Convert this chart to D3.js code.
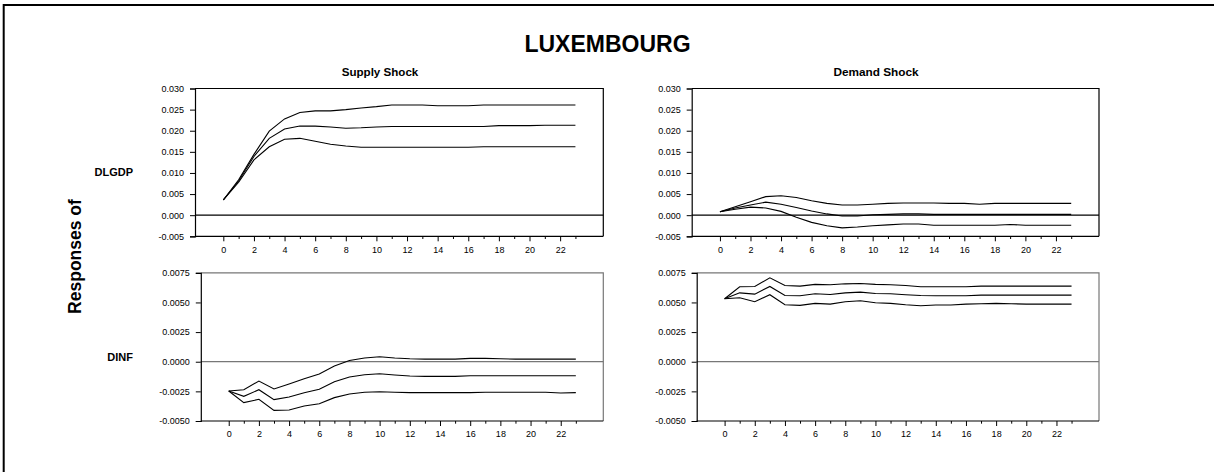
<!DOCTYPE html>
<html>
<head>
<meta charset="utf-8">
<script src="https://cdn.jsdelivr.net/npm/d3@7"></script>
<style>
  body { margin: 0; background: #fff; overflow: hidden; }
  svg { display: block; font-family: "Liberation Sans", Arial, sans-serif; }
</style>
</head>
<body>
<svg id="chart" width="1214" height="472"></svg>
<script>
// ---- data ----
const periods = [0,1,2,3,4,5,6,7,8,9,10,11,12,13,14,15,16,17,18,19,20,21,22,23];
const xTickLabels = [0,2,4,6,8,10,12,14,16,18,20,22];
const yTicksGdp = [-0.005, 0.000, 0.005, 0.010, 0.015, 0.020, 0.025, 0.030];
const yTicksInf = [-0.0050, -0.0025, 0.0000, 0.0025, 0.0050, 0.0075];

const supplyGdpUp  = [0.0036,0.0084,0.0144,0.0199,0.0228,0.0243,0.0247,0.0247,0.0250,0.0254,0.0257,0.0261,0.0261,0.0261,0.0259,0.0259,0.0259,0.0261,0.0261,0.0261,0.0261,0.0261,0.0261,0.0261];
const supplyGdpMid = [0.0036,0.0081,0.0139,0.0182,0.0204,0.0211,0.0211,0.0209,0.0206,0.0207,0.0209,0.0210,0.0210,0.0210,0.0210,0.0210,0.0210,0.0210,0.0212,0.0212,0.0212,0.0213,0.0213,0.0213];
const supplyGdpLo  = [0.0036,0.0078,0.0131,0.0162,0.0180,0.0182,0.0175,0.0168,0.0164,0.0161,0.0161,0.0161,0.0161,0.0161,0.0161,0.0161,0.0161,0.0162,0.0162,0.0162,0.0162,0.0162,0.0162,0.0162];

const demandGdpUp  = [0.0008,0.0020,0.0032,0.0044,0.0046,0.0042,0.0034,0.0028,0.0024,0.0024,0.0026,0.0028,0.0029,0.0029,0.0029,0.0028,0.0028,0.0026,0.0028,0.0028,0.0028,0.0028,0.0028,0.0028];
const demandGdpMid = [0.0008,0.0017,0.0024,0.0031,0.0026,0.0018,0.0010,0.0003,-0.0002,-0.0002,0.0001,0.0002,0.0003,0.0003,0.0002,0.0002,0.0002,0.0002,0.0002,0.0002,0.0002,0.0002,0.0002,0.0002];
const demandGdpLo  = [0.0008,0.0014,0.0019,0.0017,0.0009,-0.0005,-0.0017,-0.0025,-0.0030,-0.0028,-0.0025,-0.0023,-0.0021,-0.0021,-0.0024,-0.0024,-0.0024,-0.0024,-0.0024,-0.0022,-0.0024,-0.0024,-0.0024,-0.0024];

const supplyInfUp  = [-0.00247,-0.00236,-0.00163,-0.00230,-0.00188,-0.00143,-0.00104,-0.00037,0.00011,0.00031,0.00042,0.00031,0.00025,0.00022,0.00022,0.00022,0.00028,0.00028,0.00025,0.00022,0.00022,0.00022,0.00022,0.00022];
const supplyInfMid = [-0.00247,-0.00292,-0.00236,-0.00320,-0.00298,-0.00261,-0.00233,-0.00169,-0.00129,-0.00110,-0.00101,-0.00112,-0.00121,-0.00124,-0.00124,-0.00124,-0.00118,-0.00118,-0.00118,-0.00118,-0.00118,-0.00118,-0.00118,-0.00118];
const supplyInfLo  = [-0.00247,-0.00345,-0.00317,-0.00410,-0.00407,-0.00374,-0.00354,-0.00303,-0.00272,-0.00258,-0.00253,-0.00258,-0.00261,-0.00261,-0.00261,-0.00261,-0.00261,-0.00258,-0.00258,-0.00258,-0.00258,-0.00258,-0.00264,-0.00261];

const demandInfUp  = [0.00531,0.00632,0.00635,0.00708,0.00643,0.00638,0.00652,0.00649,0.00657,0.00660,0.00652,0.00649,0.00643,0.00632,0.00632,0.00632,0.00632,0.00638,0.00638,0.00638,0.00638,0.00638,0.00638,0.00638];
const demandInfMid = [0.00531,0.00581,0.00570,0.00635,0.00559,0.00556,0.00573,0.00567,0.00581,0.00587,0.00576,0.00573,0.00565,0.00559,0.00556,0.00556,0.00556,0.00562,0.00562,0.00562,0.00562,0.00562,0.00562,0.00562];
const demandInfLo  = [0.00531,0.00539,0.00506,0.00565,0.00480,0.00475,0.00492,0.00486,0.00506,0.00514,0.00497,0.00492,0.00480,0.00472,0.00478,0.00478,0.00486,0.00489,0.00492,0.00489,0.00486,0.00486,0.00486,0.00486];

const title = "LUXEMBOURG";
const shockTitles = ["Supply Shock", "Demand Shock"];
const responseNames = ["DLGDP", "DINF"];
const sideLabel = "Responses of";

// ---- layout ----
const svg = d3.select("#chart");
const fmtMinus = f => v => f(v).replace("\u2212", "-");

// outer frame: only left and top edges are inside the picture
svg.append("path").attr("d", "M3.7,472V5H1214").attr("fill", "none")
  .attr("stroke", "#000").attr("stroke-width", 2);

svg.append("text").attr("x", 607.5).attr("y", 51.5).attr("text-anchor", "middle")
  .attr("font-size", 23).attr("font-weight", "bold").text(title);

svg.append("text").attr("x", 380).attr("y", 76).attr("text-anchor", "middle")
  .attr("font-size", 11.6).attr("font-weight", "bold").text(shockTitles[0]);
svg.append("text").attr("x", 876).attr("y", 76).attr("text-anchor", "middle")
  .attr("font-size", 11.8).attr("font-weight", "bold").text(shockTitles[1]);

svg.append("text").attr("x", 133).attr("y", 176).attr("text-anchor", "end")
  .attr("font-size", 11).attr("font-weight", "bold").text(responseNames[0]);
svg.append("text").attr("x", 133).attr("y", 361).attr("text-anchor", "end")
  .attr("font-size", 11).attr("font-weight", "bold").text(responseNames[1]);

svg.append("text").attr("transform", "translate(81,256.5) rotate(-90)").attr("text-anchor", "middle")
  .attr("font-size", 17.5).attr("font-weight", "bold").text(sideLabel);

const panels = [
  {l:195,   r:603.3, t:88.5,  b:236.3, dom:[-0.005,0.030],  ticks:yTicksGdp, fmt:".3f", series:[supplyGdpUp,supplyGdpMid,supplyGdpLo], frame:"#000"},
  {l:691.7, r:1099,  t:88.5,  b:236.3, dom:[-0.005,0.030],  ticks:yTicksGdp, fmt:".3f", series:[demandGdpUp,demandGdpMid,demandGdpLo], frame:"#000"},
  {l:200.8, r:603.3, t:272.8, b:421,   dom:[-0.005,0.0075], ticks:yTicksInf, fmt:".4f", series:[supplyInfUp,supplyInfMid,supplyInfLo], frame:"#777"},
  {l:696.7, r:1099,  t:272.8, b:421,   dom:[-0.005,0.0075], ticks:yTicksInf, fmt:".4f", series:[demandInfUp,demandInfMid,demandInfLo], frame:"#777"}
];

panels.forEach(p => {
  const x = d3.scaleLinear().domain([-1.85, 24.82]).range([p.l, p.r]);
  const y = d3.scaleLinear().domain(p.dom).range([p.b, p.t]);
  const g = svg.append("g");

  g.append("path").attr("d", `M${p.l},${p.t}H${p.r}V${p.b}`).attr("fill", "none")
    .attr("stroke", p.frame).attr("stroke-width", 1.2);
  g.append("line").attr("x1", p.l).attr("x2", p.r).attr("y1", y(0)).attr("y2", y(0))
    .attr("stroke", p.frame).attr("stroke-width", 1.2);

  const ya = g.append("g").attr("transform", `translate(${p.l},0)`)
    .call(d3.axisLeft(y).tickValues(p.ticks).tickSize(5).tickPadding(6).tickFormat(fmtMinus(d3.format(p.fmt))));
  ya.select(".domain").attr("stroke", "#000").attr("stroke-width", 1.2);
  ya.selectAll("text").attr("font-size", 9).attr("font-family", "Liberation Sans, Arial, sans-serif").attr("fill", "#000");

  const xa = g.append("g").attr("transform", `translate(0,${p.b})`)
    .call(d3.axisBottom(x).tickValues(periods).tickSize(5).tickPadding(5)
      .tickFormat(d => xTickLabels.includes(d) ? d : ""));
  xa.select(".domain").attr("d", `M${p.l},0H${p.r}`).attr("stroke", "#000").attr("stroke-width", 1.2);
  xa.selectAll(".tick line").attr("y2", d => xTickLabels.includes(d) ? 5 : 2.7);
  xa.selectAll("text").attr("font-size", 9).attr("font-family", "Liberation Sans, Arial, sans-serif").attr("fill", "#000");

  const line = d3.line().x((d, i) => x(periods[i])).y(d => y(d));
  p.series.forEach(s => {
    g.append("path").datum(s).attr("d", line).attr("fill", "none")
      .attr("stroke", "#000").attr("stroke-width", 1.1);
  });
});
</script>
</body>
</html>
